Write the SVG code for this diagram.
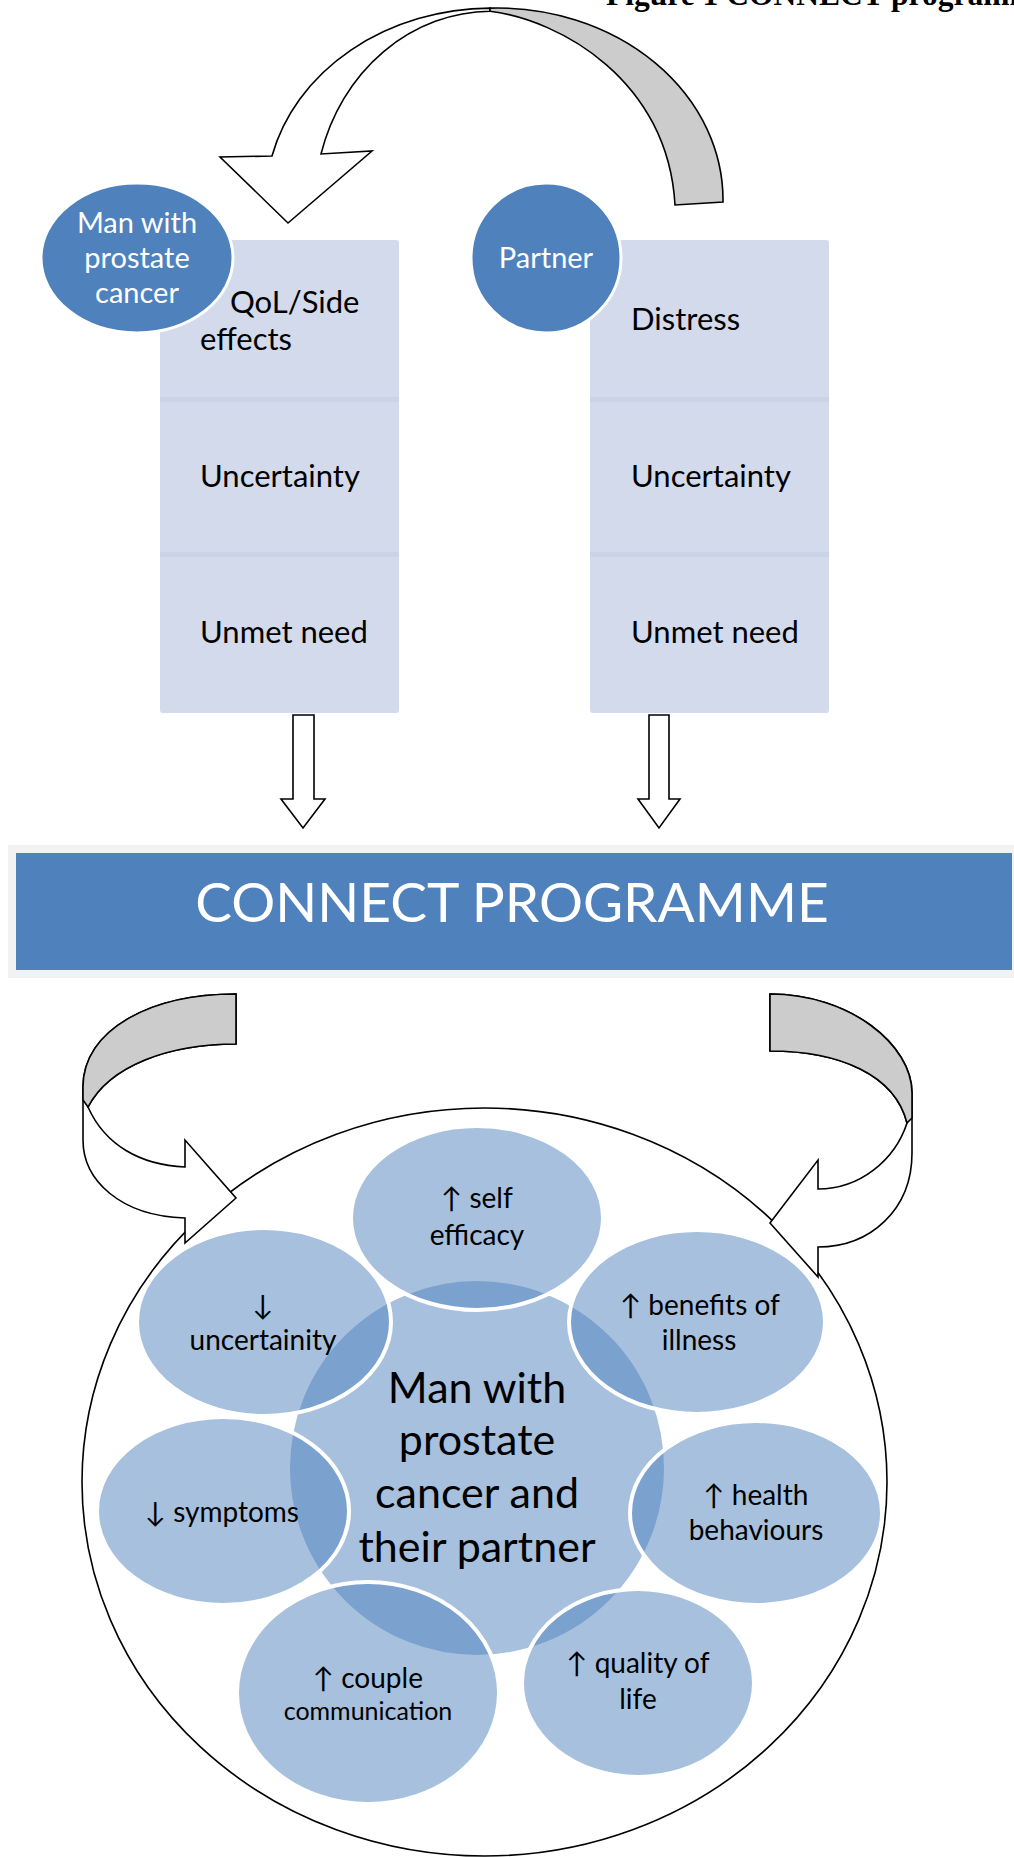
<svg xmlns="http://www.w3.org/2000/svg" width="1014" height="1857" viewBox="0 0 1014 1857">
<style>
.ln{stroke:#000;stroke-width:1.6;stroke-linejoin:miter}
.wf{fill:#fff}
.gf{fill:#cccccc}
.box{fill:#D3DAEB}
.sep{fill:#CBD3E6}
.dot{fill:#4F81BD;stroke:#fff;stroke-width:3}
.bub{fill:#4F81BD;fill-opacity:.5;stroke:#fff;stroke-width:4}
.t{font-family:Lato,"DejaVu Sans",sans-serif;fill:#000}
.bt{font-size:31px}
.wt{fill:#fff;font-size:29px;text-anchor:middle}
.ot{font-size:28px;text-anchor:middle}
.ct{font-size:43px;text-anchor:middle}
</style>
<rect width="1014" height="1857" fill="#fff"/>
<g id="title">
<text x="606" y="5" font-family="'Liberation Serif',serif" font-weight="bold" font-size="31.5">Figure 1 CONNECT programme</text>
</g>
<g id="node-man-factors">
<rect class="box" x="160" y="240" width="239" height="473" rx="3"/>
<rect class="sep" x="160" y="397" width="239" height="5"/>
<rect class="sep" x="160" y="552" width="239" height="5"/>
<text class="t bt" x="230" y="313">QoL/Side</text>
<text class="t bt" x="200" y="350">effects</text>
<text class="t bt" x="200" y="487">Uncertainty</text>
<text class="t bt" x="200" y="643">Unmet need</text>
</g>
<g id="node-partner-factors">
<rect class="box" x="590" y="240" width="239" height="473" rx="3"/>
<rect class="sep" x="590" y="397" width="239" height="5"/>
<rect class="sep" x="590" y="552" width="239" height="5"/>
<text class="t bt" x="631" y="330">Distress</text>
<text class="t bt" x="631" y="487">Uncertainty</text>
<text class="t bt" x="631" y="643">Unmet need</text>
</g>
<g id="node-man">
<ellipse class="dot" cx="137" cy="258" rx="96" ry="75"/>
<text class="t wt" x="137" y="233">Man with</text>
<text class="t wt" x="137" y="268">prostate</text>
<text class="t wt" x="137" y="303">cancer</text>
</g>
<g id="node-partner">
<circle class="dot" cx="546" cy="258" r="75"/>
<text class="t wt" x="546" y="268">Partner</text>
</g>
<g id="node-connect">
<rect x="8" y="845" width="1006" height="133" fill="#F2F2F2"/>
<rect x="16" y="853" width="996" height="117" fill="#4F81BD"/>
<text class="t" x="512" y="922" font-size="55" text-anchor="middle" style="fill:#fff">CONNECT PROGRAMME</text>
</g>
<g id="node-outcomes-frame">
<ellipse cx="484.5" cy="1482" rx="402.5" ry="374" fill="none" class="ln"/>
</g>
<g id="connectors">
<path class="ln wf" d="M272,156 A226,192 0 0,1 490,8.1 L490,11.2 A177,194 0 0,0 321,154 L372,151 L288,223 L220,157 Z"/>
<path class="ln gf" d="M490,8.1 A226,192 0 0,1 723,202 L675,205 C668,80 560,20 490,11.2 Z"/>
<path class="ln wf" d="M293,715 L314,715 L314,799 L325,799 L303,828 L281,799 L293,799 Z"/>
<path class="ln wf" d="M649,715 L669,715 L669,799 L680,799 L659,828 L638,799 L649,799 Z"/>
<path class="ln wf" d="M236,994 C150,994 83,1030 83,1087 L83,1140 C83,1180 120,1216 185,1218 L185,1243 L236,1198 L185,1140 L185,1167 C140,1165 105,1145 88,1107 C110,1065 170,1044 236,1044 Z"/>
<path class="ln gf" d="M236,994 C150,994 83,1030 83,1087 L83,1100 L88,1107 C110,1065 170,1044 236,1044 Z"/>
<path class="ln wf" d="M770,994 C850,994 912,1045 912,1093 L912,1153 C912,1210 870,1247 818,1247 L818,1277 L770,1223 L818,1160 L818,1189 C860,1189 895,1160 907,1123 C895,1075 840,1051 770,1051 Z"/>
<path class="ln gf" d="M770,994 C850,994 912,1045 912,1093 L912,1118 L907,1123 C895,1075 840,1051 770,1051 Z"/>
</g>
<g id="node-center">
<circle class="bub" cx="477" cy="1468" r="189"/>
</g>
<g id="node-self-efficacy">
<ellipse class="bub" cx="477" cy="1218" rx="126" ry="92"/>
<text class="t ot" x="477" y="1208">↑ self</text>
<text class="t ot" x="477" y="1245">efficacy</text>
</g>
<g id="node-uncertainity">
<ellipse class="bub" cx="264" cy="1322" rx="127" ry="94"/>
<text class="t ot" x="263" y="1315">↓</text>
<text class="t ot" x="263" y="1350">uncertainity</text>
</g>
<g id="node-benefits">
<ellipse class="bub" cx="697" cy="1322" rx="128" ry="92"/>
<text class="t ot" x="700" y="1315">↑ benefits of</text>
<text class="t ot" x="699" y="1350">illness</text>
</g>
<g id="node-symptoms">
<ellipse class="bub" cx="223" cy="1511" rx="126" ry="94"/>
<text class="t ot" x="222" y="1522">↓ symptoms</text>
</g>
<g id="node-health">
<ellipse class="bub" cx="756" cy="1513" rx="126" ry="92"/>
<text class="t ot" x="756" y="1505">↑ health</text>
<text class="t ot" x="756" y="1540">behaviours</text>
</g>
<g id="node-couple">
<ellipse class="bub" cx="368" cy="1693" rx="131" ry="111"/>
<text class="t ot" x="368" y="1688">↑ couple</text>
<text class="t ot" x="368" y="1720" style="font-size:25px">communication</text>
</g>
<g id="node-quality">
<ellipse class="bub" cx="638" cy="1683" rx="116" ry="94"/>
<text class="t ot" x="638" y="1673">↑ quality of</text>
<text class="t ot" x="638" y="1709">life</text>
</g>
<g id="node-center-label">
<text class="t ct" x="477" y="1403">Man with</text>
<text class="t ct" x="477" y="1455">prostate</text>
<text class="t ct" x="477" y="1508">cancer and</text>
<text class="t ct" x="477" y="1562">their partner</text>
</g>
</svg>
